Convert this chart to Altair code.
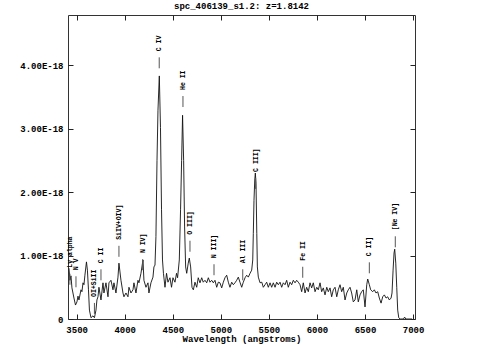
import altair as alt
import pandas as pd

title_text = "spc_406139_s1.2: z=1.8142"

wave = [3420, 3430, 3441, 3451, 3472, 3488, 3503, 3514, 3524, 3545, 3555, 3566, 3576, 3586,
        3602, 3612, 3623, 3633, 3649, 3670, 3685, 3701, 3711, 3722, 3732, 3753, 3774, 3784,
        3805, 3826, 3836, 3857, 3878, 3888, 3909, 3930, 3940, 3961, 3982, 3992, 4013, 4034,
        4044, 4065, 4086, 4096, 4117, 4138, 4148, 4169, 4190, 4200, 4221, 4242, 4252, 4273,
        4294, 4304, 4315, 4325, 4336, 4346, 4360, 4372, 4383, 4393, 4403, 4419, 4435, 4450,
        4471, 4487, 4502, 4523, 4539, 4550, 4568, 4581, 4592, 4602, 4613, 4623, 4634, 4645,
        4661, 4672, 4686, 4700, 4714, 4731, 4749, 4765, 4783, 4801, 4817, 4835, 4853, 4870,
        4887, 4905, 4922, 4939, 4957, 4974, 4991, 5009, 5026, 5043, 5061, 5078, 5095, 5113,
        5130, 5147, 5165, 5182, 5199, 5217, 5234, 5252, 5269, 5286, 5304, 5321, 5332, 5338,
        5345, 5353, 5359, 5366, 5374, 5380, 5390, 5408, 5426, 5442, 5460, 5477, 5494, 5512,
        5529, 5546, 5564, 5581, 5598, 5616, 5633, 5650, 5668, 5685, 5702, 5720, 5737, 5754,
        5772, 5789, 5806, 5824, 5841, 5858, 5876, 5893, 5910, 5928, 5945, 5962, 5980, 5998,
        6014, 6032, 6049, 6066, 6084, 6102, 6118, 6136, 6153, 6170, 6188, 6206, 6222, 6240,
        6257, 6274, 6292, 6310, 6326, 6344, 6361, 6378, 6396, 6414, 6430, 6448, 6465, 6482,
        6500, 6518, 6528, 6545, 6559, 6580, 6597, 6614, 6632, 6649, 6667, 6684, 6701, 6719,
        6736, 6753, 6771, 6781, 6792, 6802, 6809, 6820, 6830, 6840, 6851, 6865, 6900, 6912,
        6925, 6990]

flux = [0.80, 0.61, 0.68, 0.49, 0.33, 0.22, 0.27, 0.36, 0.30, 0.46, 0.43, 0.57, 0.54, 0.69,
        0.90, 0.77, 0.46, 0.14, 0.02, 0.05, 0.02, 0.14, 0.30, 0.35, 0.50, 0.30, 0.57, 0.41,
        0.57, 0.35, 0.57, 0.61, 0.46, 0.57, 0.41, 0.66, 0.88, 0.61, 0.41, 0.35, 0.41, 0.35,
        0.50, 0.41, 0.46, 0.57, 0.41, 0.61, 0.57, 0.72, 0.93, 0.61, 0.50, 0.57, 0.41, 0.57,
        0.66, 0.82, 0.85, 1.30, 2.50, 3.29, 3.83, 3.02, 1.72, 0.93, 0.72, 0.50, 0.72, 0.58,
        0.65, 0.50, 0.65, 0.58, 0.72, 0.65, 0.93, 1.72, 2.50, 3.21, 2.50, 1.45, 0.82, 0.72,
        0.88, 0.96, 0.82, 0.50, 0.46, 0.58, 0.50, 0.65, 0.57, 0.65, 0.58, 0.61, 0.57, 0.65,
        0.58, 0.61, 0.57, 0.61, 0.50, 0.58, 0.57, 0.49, 0.58, 0.65, 0.69, 0.58, 0.50, 0.58,
        0.54, 0.57, 0.61, 0.66, 0.58, 0.50, 0.58, 0.65, 0.69, 0.66, 0.72, 0.77, 0.93, 1.35,
        1.87, 2.19, 2.30, 2.14, 1.35, 0.82, 0.66, 0.57, 0.58, 0.50, 0.54, 0.58, 0.50, 0.57,
        0.50, 0.57, 0.50, 0.58, 0.54, 0.58, 0.50, 0.57, 0.54, 0.61, 0.50, 0.58, 0.54, 0.61,
        0.57, 0.61, 0.58, 0.54, 0.43, 0.57, 0.41, 0.50, 0.43, 0.57, 0.49, 0.57, 0.43, 0.50,
        0.46, 0.57, 0.43, 0.49, 0.38, 0.50, 0.43, 0.49, 0.35, 0.46, 0.50, 0.35, 0.46, 0.54,
        0.43, 0.50, 0.30, 0.41, 0.46, 0.50, 0.41, 0.27, 0.30, 0.46, 0.27, 0.38, 0.43, 0.46,
        0.19, 0.54, 0.63, 0.54, 0.46, 0.43, 0.46, 0.41, 0.43, 0.33, 0.25, 0.35, 0.38, 0.33,
        0.35, 0.30, 0.33, 0.41, 0.77, 1.04, 1.10, 0.88, 0.50, 0.14, 0.02, 0.00, 0.00, 0.03,
        0.00, 0.00]

label_wave = [3430, 3493, 3685, 3753, 3940, 4187, 4359, 4606, 4679, 4929, 5228, 5362, 5852, 6545, 6815]
label_text = ["Ly alpha", "N V", "OI+SiII", "C II", "SiIV+OIV]", "N IV]", "C IV", "He II",
              "O III]", "N III]", "Al III", "C III]", "Fe II", "C II]", "[Ne IV]"]
label_base = [0.54, 0.50, 0.08, 0.61, 0.98, 0.77, 3.95, 3.34, 1.06, 0.69, 0.61, 2.05, 0.65, 0.72, 1.13]

x_ticks = [3500, 4000, 4500, 5000, 5500, 6000, 6500, 7000]
y_ticks = [0, 1, 2, 3, 4]

TICK_LEN = 0.173
TEXT_GAP = 0.268
FONT = "Liberation Mono"

spec = pd.DataFrame({"wave": wave, "flux": flux})
labels = pd.DataFrame({"wave": label_wave, "text": label_text, "y0": label_base})
labels["y1"] = labels["y0"] + TICK_LEN
labels["yt"] = labels["y0"] + TEXT_GAP

xscale = alt.Scale(domain=[3410, 7020], nice=False, zero=False)
yscale = alt.Scale(domain=[0, 4.79], nice=False, zero=False)

common_axis = dict(domain=False, grid=False, tickSize=5, offset=-5, tickColor="#222",
                   labelFont=FONT, labelFontSize=9, labelFontWeight="bold", labelColor="#000",
                   titleFont=FONT, titleFontSize=9, titleFontWeight="bold", titleColor="#000")

x_bottom = alt.Axis(title="Wavelength (angstroms)", values=x_ticks, format="d",
                    labelPadding=6, titlePadding=0, **common_axis)
y_left = alt.Axis(title=None, values=y_ticks, labelPadding=5,
                  labelExpr="datum.value == 0 ? '0' : format(datum.value, '.2f') + 'E-18'",
                  **common_axis)
x_top = alt.Axis(title=None, values=x_ticks, labels=False, orient="top", **common_axis)
y_right = alt.Axis(title=None, values=y_ticks, labels=False, orient="right", **common_axis)

line = alt.Chart(spec).mark_line(color="#111", strokeWidth=0.9, clip=True).encode(
    x=alt.X("wave:Q", scale=xscale, axis=x_bottom),
    y=alt.Y("flux:Q", scale=yscale, axis=y_left),
)

ticks = alt.Chart(labels).mark_rule(color="#555", strokeWidth=1).encode(
    x=alt.X("wave:Q", scale=xscale, axis=x_top),
    y=alt.Y("y0:Q", scale=yscale, axis=y_right),
    y2="y1:Q",
)

texts = alt.Chart(labels).mark_text(angle=270, align="left", baseline="middle",
                                    font=FONT, fontSize=6.5, fontWeight="bold",
                                    color="#000").encode(
    x=alt.X("wave:Q", scale=xscale, axis=None),
    y=alt.Y("yt:Q", scale=yscale, axis=None),
    text="text:N",
)

chart = alt.layer(line, ticks, texts).resolve_axis(x="independent", y="independent").properties(
    width=347, height=304,
    title=alt.TitleParams(title_text, font=FONT, fontSize=9, fontWeight="bold",
                          color="#000", offset=4, anchor="middle"),
    autosize=alt.AutoSizeParams(type="none"),
    padding={"left": 68, "top": 15, "right": 68, "bottom": 39},
    background="white",
).configure_view(stroke="#333", strokeWidth=1)

chart.save("out.html", embed_options={"renderer": "svg", "actions": False})
